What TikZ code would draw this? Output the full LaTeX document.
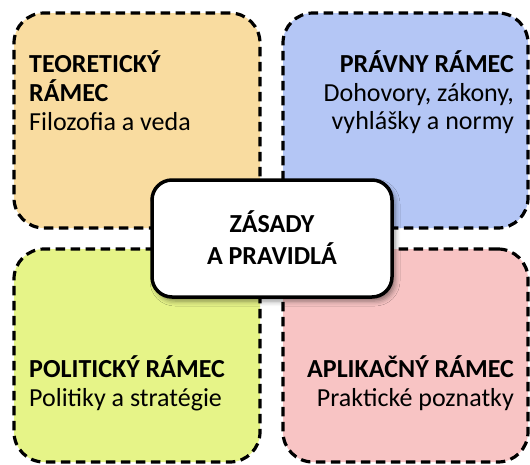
\documentclass[tikz,border=0pt]{standalone}
\usepackage{fontspec}
\setmainfont{Carlito}
\usetikzlibrary{shadows.blur}
\definecolor{theoryfill}{RGB}{249,220,160}
\definecolor{lawfill}{RGB}{180,198,245}
\definecolor{policyfill}{RGB}{230,244,136}
\definecolor{practicefill}{RGB}{248,196,196}
\begin{document}
\begin{tikzpicture}[x=1pt,y=-1pt,
  frame/.style={draw=black, line width=3.2pt, dash pattern=on 9.5pt off 5.5pt,
    rounded corners=30pt, inner sep=0pt, minimum width=#1},
  core/.style={draw=black, line width=3.5pt, fill=white, rounded corners=20pt,
    inner sep=0pt, minimum width=240pt, minimum height=117pt,
    blur shadow={shadow xshift=3pt, shadow yshift=-4pt, shadow blur radius=5pt, shadow opacity=45}},
  head/.style={inner sep=0pt, font=\bfseries\fontsize{26}{30}\selectfont},
  body/.style={inner sep=0pt, font=\fontsize{26}{30}\selectfont}
]
\useasboundingbox (0,0) rectangle (530,464);

% four framework areas
\node[frame=246pt, minimum height=215pt, fill=theoryfill]   (theory)   at (137,120.5) {};
\node[frame=245pt, minimum height=215pt, fill=lawfill]      (law)      at (405.5,120.5) {};
\node[frame=246pt, minimum height=213pt, fill=policyfill]   (policy)   at (137,355.5) {};
\node[frame=245pt, minimum height=213pt, fill=practicefill] (practice) at (405.5,355.5) {};

% labels, top left
\node[head, anchor=base west] (t1) at (29,72)    {TEORETICKÝ};
\node[head, anchor=base west] (t2) at (29,101.5) {RÁMEC};
\node[body, anchor=base west] (t3) at (29,130.5) {Filozofia a veda};

% labels, top right
\node[head, anchor=base east] (l1) at (514,72)    {PRÁVNY RÁMEC};
\node[body, anchor=base east] (l2) at (514,101)   {Dohovory, zákony,};
\node[body, anchor=base east] (l3) at (514,129.5) {vyhlášky a normy};

% labels, bottom left
\node[head, anchor=base west] (p1) at (29,377) {POLITICKÝ RÁMEC};
\node[body, anchor=base west] (p2) at (29,406) {Politiky a stratégie};

% labels, bottom right
\node[head, anchor=base east] (a1) at (514,377) {APLIKAČNÝ RÁMEC};
\node[body, anchor=base east] (a2) at (514,406) {Praktické poznatky};

% central box
\node[core] (rules) at (272,238.5) {};
\node[head, anchor=base] (r1) at (272,232) {ZÁSADY};
\node[head, anchor=base] (r2) at (272,264) {A PRAVIDLÁ};
\end{tikzpicture}
\end{document}
